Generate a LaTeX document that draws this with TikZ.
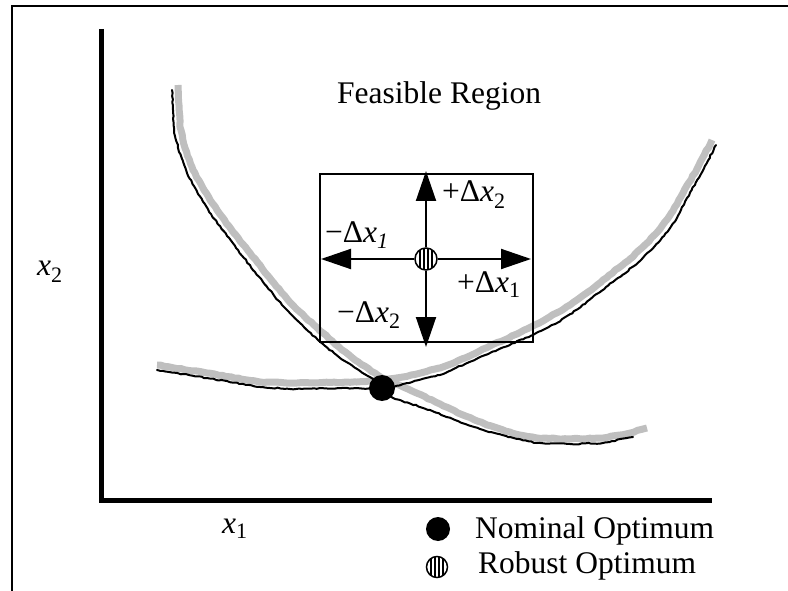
\documentclass[tikz,border=0pt]{standalone}
\usepackage{fontspec}
\setmainfont{Liberation Serif}
\usetikzlibrary{arrows.meta,decorations.pathmorphing}
\begin{document}
\begin{tikzpicture}[x=1pt,y=-1pt,
  txt/.style={font=\fontsize{31.5}{36}\selectfont, inner sep=0pt, anchor=base west},
  graycurve/.style={draw=black!25, line width=7pt, line join=round,
    decorate, decoration={random steps, segment length=4pt, amplitude=0.45pt}},
  blackcurve/.style={draw=black, line width=2pt, line join=round, line cap=round,
    decorate, decoration={random steps, segment length=3pt, amplitude=0.6pt}},
  axisline/.style={line width=5pt},
  bigarrow/.style={line width=2pt, -{Triangle[length=30pt,width=20pt]}},
  nomdot/.style={circle, fill=black, inner sep=0pt, minimum size=#1},
  robdot/.style={circle, draw=black, fill=white, line width=1.5pt, inner sep=0pt, minimum size=#1,
    path picture={
      \foreach \s in {-6,-2,2,6}
        \fill[black] ([xshift={(\s-1)*1pt}]path picture bounding box.south) rectangle ([xshift={(\s+1)*1pt}]path picture bounding box.north);
    }},
]
\pgfmathsetseed{11}
\useasboundingbox (0,0) rectangle (788,591);

% frame (only left and top edges visible)
\coordinate (fbl) at (11.5,591);
\coordinate (ftl) at (11.5,6);
\coordinate (ftr) at (788,6);
\draw[line width=2pt] (fbl) -- (ftl) -- (ftr);

% axes
\coordinate (ytop) at (101,29);
\coordinate (orig) at (101,500);
\coordinate (xend) at (712,500);
\draw[axisline] (ytop) -- (orig) -- (xend);

% curves: gray first
\path[graycurve] (178,85) -- (179,105) -- (180,127) -- (185,148) -- (193,170) -- (204,190) -- (217,210) -- (233,232) -- (250,253) -- (269,277) -- (288,300) -- (305,317) -- (323,333) -- (339,347) -- (355,360) -- (382,378) -- (410,390) -- (440,404) -- (463,415) -- (487,425) -- (512,433) -- (537,438) -- (570,439) -- (603,438) -- (626,434) -- (647,428);
\path[graycurve] (157,365) -- (207,373) -- (260,382) -- (290,383) -- (357,382) -- (382,380) -- (403,377) -- (440,368) -- (465,358) -- (490,346) -- (517,334) -- (543,321) -- (570,305) -- (588,292) -- (603,280) -- (630,259) -- (646,244) -- (660,229) -- (673,211) -- (683,193) -- (697,169) -- (712,140);
% black curves
\path[blackcurve] (172,90) -- (173,110) -- (174,130) -- (179,152) -- (187,173) -- (198,194) -- (211,214) -- (227,236) -- (244,258) -- (263,282) -- (282,305) -- (300,323) -- (318,340) -- (340,358) -- (370,377) -- (393,398) -- (430,410) -- (455,420) -- (480,429) -- (508,437) -- (537,443) -- (570,444) -- (603,443) -- (633,437);
\path[blackcurve] (157,370) -- (207,378) -- (260,387) -- (290,389) -- (357,388) -- (382,390) -- (403,384) -- (440,375) -- (465,364) -- (490,353) -- (533,335) -- (557,323) -- (578,309) -- (606,287) -- (634,266) -- (650,251) -- (664,236) -- (677,218) -- (687,198) -- (701,174) -- (716,145);

% nominal optimum
\node[nomdot=26pt] (nom) at (382,388) {};

% box with robust optimum
\node[draw, line width=2pt, minimum width=213pt, minimum height=168pt, inner sep=0pt] (box) at (426.5,258) {};
\node[robdot=22pt] (rob) at (426,259) {};
\draw[bigarrow] (rob) -- ([yshift=2pt]rob |- box.north);
\draw[bigarrow] (rob) -- ([yshift=-4pt]rob |- box.south);
\draw[bigarrow] (rob) -- ([xshift=2pt]rob -| box.west);
\draw[bigarrow] (rob) -- ([xshift=-3pt]rob -| box.east);

\node[txt] (lup) at (442,202) {+Δ\textit{x}\textsubscript{2}};
\node[txt] (lleft) at (325,243) {−Δ\textit{x}\textsubscript{\textit{1}}};
\node[txt] (lright) at (457,292) {+Δ\textit{x}\textsubscript{1}};
\node[txt] (ldown) at (337,322) {−Δ\textit{x}\textsubscript{2}};

% labels
\node[txt] (feas) at (337,104) {Feasible Region};
\node[txt] (xtwo) at (37,276) {\textit{x}\textsubscript{2}};
\node[txt] (xone) at (222,533) {\textit{x}\textsubscript{1}};

% legend
\node[nomdot=24pt] (lnom) at (438,529) {};
\node[txt] (lnomt) at (475,538) {Nominal Optimum};
\node[robdot=21pt] (lrob) at (437,567) {};
\node[txt] (lrobt) at (478,573) {Robust Optimum};
\end{tikzpicture}
\end{document}
